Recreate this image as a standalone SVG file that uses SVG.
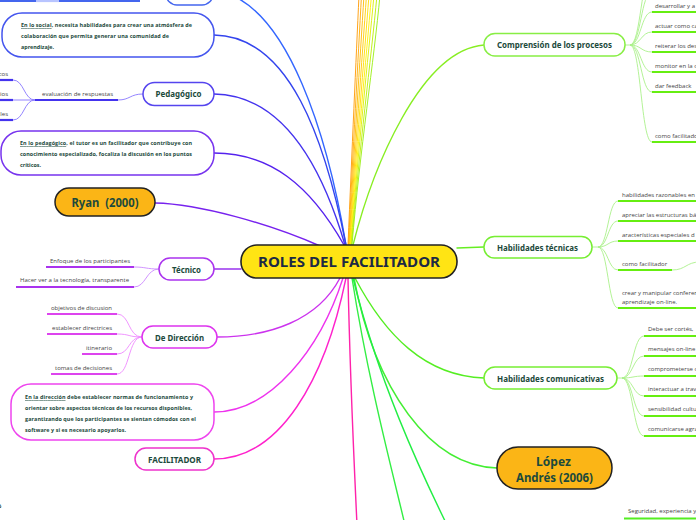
<svg xmlns="http://www.w3.org/2000/svg" width="696" height="520" viewBox="0 0 696 520">
<style>
.c{fill:none;stroke-width:1.4;stroke-linecap:round}
.b{fill:none;stroke-width:0.9}
.u{fill:none;stroke-width:2.2}
.s{fill:none;stroke-width:0.9}
.n{fill:#fff;stroke-width:1.5}
.lbl{font-family:"Noto Sans","Open Sans",sans-serif;font-weight:bold;font-size:9px;fill:#1c4a3c;text-anchor:middle}
.big{font-family:"Noto Sans","Open Sans",sans-serif;font-weight:bold;font-size:12px;fill:#1c4a3c;text-anchor:middle}
.lf{font-family:"Open Sans","Noto Sans",sans-serif;font-size:6px;fill:#444}
.bx{font-family:"Open Sans","Noto Sans",sans-serif;font-weight:bold;font-size:5.4px;fill:#1c4a3c}
.ul{text-decoration:underline}
</style>
<g id="connectors">
<!-- top bundle -->
<path class="b" stroke="#ff9900" d="M348 245 C352 150,356 60,359 -5"/>
<path class="b" stroke="#ffaa00" d="M348.5 245 C353 150,358 60,361.5 -5"/>
<path class="b" stroke="#ffbb00" d="M349 245 C354 150,360 60,364 -5"/>
<path class="b" stroke="#ffcc00" d="M349.5 245 C355 150,362 60,366.5 -5"/>
<path class="b" stroke="#ffdd00" d="M350 245 C356 150,364 60,369 -5"/>
<path class="b" stroke="#ffee00" d="M350.5 245 C357 150,366 60,371.5 -5"/>
<path class="b" stroke="#ddee00" d="M351 245 C358 150,368 60,374 -5"/>
<path class="b" stroke="#bbee00" d="M351.5 245 C359 150,371 60,377 -5"/>
<path class="b" stroke="#99ee11" d="M352 245 C360 150,374 60,380 -5"/>
<!-- left -->
<path class="c" stroke="#3366ff" d="M346 245 C330 150,290 -5,210 -10"/>
<path class="c" stroke="#3344ee" d="M346 245 C325 140,290 36,214 35"/>
<path class="c" stroke="#4433ee" d="M345 245 C320 160,280 95,214 94"/>
<path class="c" stroke="#5522ee" d="M344 245 C310 185,270 153,214 153"/>
<path class="c" stroke="#7722ee" d="M320 246 C270 224,200 204,155 203"/>
<path class="c" stroke="#9933ee" d="M241 269 L214 269"/>
<path class="c" stroke="#cc33ee" d="M340 278 C318 320,270 337,217 337"/>
<path class="c" stroke="#ee33ee" d="M343 278 C320 350,270 412,214 412"/>
<path class="c" stroke="#ff22cc" d="M346 278 C325 380,280 459,214 459"/>
<path class="c" stroke="#ff22aa" d="M348 278 C350 380,354 460,357 525"/>
<!-- right -->
<path class="c" stroke="#88ee22" d="M353 245 C372 170,420 50,484 45"/>
<path class="c" stroke="#66ee22" d="M457 248 L484 247"/>
<path class="c" stroke="#55ee22" d="M355 278 C385 335,425 376,484 378"/>
<path class="c" stroke="#44ee33" d="M354 278 C375 390,430 466,497 468"/>
<path class="c" stroke="#33ee44" d="M352 278 C368 380,392 470,405 525"/>
<path class="c" stroke="#22ee44" d="M353 278 C378 380,420 470,447 525"/>
<!-- top-left partial subtree -->
<path class="u" stroke="#4466ee" d="M0 1 L140 1"/>
<path class="u" stroke="#b8c4ff" d="M36 1 L59 1"/>
<!-- Pedagógico subtree -->
<path class="s" stroke="#8877ff" d="M143 94 C130 94,130 100,118 100"/>
<path class="u" stroke="#4433ee" d="M35 100 L118 100"/>
<path class="s" stroke="#8877ff" d="M35 100 C24 100,24 80,13 80"/>
<path class="s" stroke="#8877ff" d="M35 100 L13 100"/>
<path class="s" stroke="#8877ff" d="M35 100 C24 100,24 120,13 120"/>
<path class="u" stroke="#4433ee" d="M0 80 L13 80"/>
<path class="u" stroke="#4433ee" d="M0 100 L13 100"/>
<path class="u" stroke="#4433ee" d="M0 120 L13 120"/>
<!-- Técnico subtree -->
<path class="s" stroke="#cc88ff" d="M159 269 C146 269,146 267,134 267"/>
<path class="s" stroke="#cc88ff" d="M159 269 C146 269,146 287,134 287"/>
<path class="u" stroke="#aa33ee" d="M46 267 L134 267"/>
<path class="u" stroke="#aa33ee" d="M16 287 L134 287"/>
<!-- De Dirección subtree -->
<path class="s" stroke="#ee88ff" d="M142 337 C128 337,130 314,117 314"/>
<path class="s" stroke="#ee88ff" d="M142 337 C128 337,130 334,117 334"/>
<path class="s" stroke="#ee88ff" d="M142 337 C128 337,130 354,117 354"/>
<path class="s" stroke="#ee88ff" d="M142 337 C128 337,130 374,117 374"/>
<path class="u" stroke="#dd44ee" d="M47 314 L117 314"/>
<path class="u" stroke="#dd44ee" d="M47 334 L117 334"/>
<path class="u" stroke="#dd44ee" d="M82 354 L117 354"/>
<path class="u" stroke="#dd44ee" d="M51 374 L117 374"/>
<!-- Comprensión subtree -->
<path class="s" stroke="#aaf08a" d="M625 45 L630 45"/>
<path class="s" stroke="#aaf08a" d="M630 45 C641 45,641 -28,652 -28"/>
<path class="s" stroke="#aaf08a" d="M630 45 C641 45,641 -8,652 -8"/>
<path class="s" stroke="#aaf08a" d="M630 45 C641 45,641 12,652 12"/>
<path class="s" stroke="#aaf08a" d="M630 45 C641 45,641 32,652 32"/>
<path class="s" stroke="#aaf08a" d="M630 45 C641 45,641 52,652 52"/>
<path class="s" stroke="#aaf08a" d="M630 45 C641 45,641 72,652 72"/>
<path class="s" stroke="#aaf08a" d="M630 45 C641 45,641 92,652 92"/>
<path class="s" stroke="#aaf08a" d="M630 45 C641 45,641 142,652 142"/>
<path class="u" stroke="#66ee11" d="M652 12 L700 12 M652 32 L700 32 M652 52 L700 52 M652 72 L700 72 M652 92 L700 92 M652 142 L700 142"/>
<!-- Habilidades técnicas subtree -->
<path class="s" stroke="#aaf08a" d="M592 247 L598 247"/>
<path class="s" stroke="#aaf08a" d="M598 247 C608 247,608 201,618 201"/>
<path class="s" stroke="#aaf08a" d="M598 247 C608 247,608 221,618 221"/>
<path class="s" stroke="#aaf08a" d="M598 247 C608 247,608 241,618 241"/>
<path class="s" stroke="#aaf08a" d="M598 247 C608 247,608 270,618 270"/>
<path class="s" stroke="#aaf08a" d="M598 247 C608 247,608 308,618 308"/>
<path class="s" stroke="#aaf08a" d="M672 270 C686 270,686 262,700 262"/>
<path class="u" stroke="#66ee11" d="M618 201 L700 201 M618 221 L700 221 M618 241 L700 241 M618 270 L672 270 M618 308 L700 308"/>
<!-- Habilidades comunicativas subtree -->
<path class="s" stroke="#aaf08a" d="M617 378 L622 378"/>
<path class="s" stroke="#aaf08a" d="M622 378 C633 378,633 336,644 336"/>
<path class="s" stroke="#aaf08a" d="M622 378 C633 378,633 356,644 356"/>
<path class="s" stroke="#aaf08a" d="M622 378 C633 378,633 376,644 376"/>
<path class="s" stroke="#aaf08a" d="M622 378 C633 378,633 396,644 396"/>
<path class="s" stroke="#aaf08a" d="M622 378 C633 378,633 416,644 416"/>
<path class="s" stroke="#aaf08a" d="M622 378 C633 378,633 436,644 436"/>
<path class="u" stroke="#66ee11" d="M644 336 L700 336 M644 356 L700 356 M644 376 L700 376 M644 396 L700 396 M644 416 L700 416 M644 436 L700 436"/>
<!-- bottom right -->
<path class="u" stroke="#55ee22" d="M624 518.5 L700 518.5"/>
</g>

<g id="n-top-partial"><rect class="n" stroke="#4466ee" x="166" y="-20" width="47" height="25" rx="11"/></g>

<g id="n-social">
<rect class="n" stroke="#4455ee" x="2" y="13" width="212" height="44" rx="20"/>
<text class="bx" x="21" y="27" textLength="171" lengthAdjust="spacing"><tspan class="ul">En lo social</tspan>, necesita habilidades para crear una atmósfera de</text>
<text class="bx" x="21" y="38" textLength="148" lengthAdjust="spacing">colaboración que permita generar una comunidad de</text>
<text class="bx" x="21" y="49" textLength="33" lengthAdjust="spacing">aprendizaje.</text>
</g>

<g id="n-pedagogico">
<rect class="n" stroke="#5544ee" x="143" y="82.5" width="71" height="23" rx="11.5"/>
<text class="lbl" x="178.5" y="97" textLength="46" lengthAdjust="spacingAndGlyphs">Pedagógico</text>
<text class="lf" x="42" y="95.5" textLength="71" lengthAdjust="spacing">evaluación de respuestas</text>
<text class="lf" x="8" y="75.5" text-anchor="end">cos</text>
<text class="lf" x="8" y="95.5" text-anchor="end">ios</text>
<text class="lf" x="8" y="115.5" text-anchor="end">dles</text>
</g>

<g id="n-ped-box">
<rect class="n" stroke="#7733ee" x="1" y="131" width="213" height="44" rx="20"/>
<text class="bx" x="20" y="145" textLength="172" lengthAdjust="spacing"><tspan class="ul">En lo pedagógico</tspan>, el tutor es un facilitador que contribuye con</text>
<text class="bx" x="20" y="156" textLength="172" lengthAdjust="spacing">conocimiento especializado, focaliza la discusión en los puntos</text>
<text class="bx" x="20" y="167" textLength="21" lengthAdjust="spacing">críticos.</text>
</g>

<g id="n-ryan">
<rect fill="#fbb516" stroke="#222" stroke-width="1.5" x="55" y="188" width="100" height="28" rx="14"/>
<text class="big" x="105" y="206.5" textLength="67" lengthAdjust="spacingAndGlyphs" xml:space="preserve">Ryan  (2000)</text>
</g>

<g id="n-tecnico">
<rect class="n" stroke="#aa33ee" x="159" y="258" width="55" height="22" rx="11"/>
<text class="lbl" x="186.5" y="272.5" textLength="29" lengthAdjust="spacingAndGlyphs">Técnico</text>
<text class="lf" x="50" y="262.5" textLength="80" lengthAdjust="spacing">Enfoque de los participantes</text>
<text class="lf" x="20" y="281.5" textLength="109" lengthAdjust="spacing">Hacer ver a la tecnología, transparente</text>
</g>

<g id="n-direccion">
<rect class="n" stroke="#dd33ee" x="142" y="326" width="75" height="22" rx="11"/>
<text class="lbl" x="179.5" y="340.5" textLength="49" lengthAdjust="spacingAndGlyphs">De Dirección</text>
<text class="lf" x="51" y="309.5" textLength="61" lengthAdjust="spacing">objetivos de discusion</text>
<text class="lf" x="52" y="329.5" textLength="60" lengthAdjust="spacing">establecer directrices</text>
<text class="lf" x="86" y="349.5" textLength="26" lengthAdjust="spacing">itinerario</text>
<text class="lf" x="55" y="369.5" textLength="57" lengthAdjust="spacing">tomas de decisiones</text>
</g>

<g id="n-dir-box">
<rect class="n" stroke="#ee44ee" x="11" y="384" width="203" height="56" rx="20"/>
<text class="bx" x="25" y="399" textLength="168" lengthAdjust="spacing"><tspan class="ul">En la dirección</tspan> debe establecer normas de funcionamiento y</text>
<text class="bx" x="25" y="410" textLength="167" lengthAdjust="spacing">orientar sobre aspectos técnicos de los recursos disponibles,</text>
<text class="bx" x="25" y="421" textLength="171" lengthAdjust="spacing">garantizando que los participantes se sientan cómodos con el</text>
<text class="bx" x="25" y="432" textLength="101" lengthAdjust="spacing">software y si es necesario apoyarlos.</text>
</g>

<g id="n-facilitador">
<rect class="n" stroke="#ee33cc" x="135" y="448" width="79" height="22" rx="11"/>
<text class="lbl" x="174.5" y="462.5" textLength="53" lengthAdjust="spacingAndGlyphs">FACILITADOR</text>
</g>

<g id="n-frag"><text class="bx" x="-2" y="508">ó</text></g>

<g id="n-central">
<rect fill="#ffe414" stroke="#222" stroke-width="1.6" x="241" y="245" width="216" height="33" rx="16"/>
<text x="349" y="267" text-anchor="middle" font-family="Noto Sans, Open Sans, sans-serif" font-weight="bold" font-size="15" fill="#1c2a44" textLength="182" lengthAdjust="spacingAndGlyphs">ROLES DEL FACILITADOR</text>
</g>

<g id="n-comprension">
<rect class="n" stroke="#88ee44" x="484" y="33.5" width="141" height="22.5" rx="11"/>
<text class="lbl" x="554.5" y="48" textLength="115" lengthAdjust="spacingAndGlyphs">Comprensión de los procesos</text>
<text class="lf" x="655" y="7.5">desarrollar y a</text>
<text class="lf" x="655" y="27.5">actuar como ca</text>
<text class="lf" x="655" y="47.5">reiterar los des</text>
<text class="lf" x="655" y="67.5">monitor en la c</text>
<text class="lf" x="655" y="87.5">dar feedback</text>
<text class="lf" x="655" y="137.5">como facilitado</text>
</g>

<g id="n-hab-tecnicas">
<rect class="n" stroke="#77ee33" x="484" y="236.5" width="108" height="21.5" rx="10.5"/>
<text class="lbl" x="537.5" y="250.5" textLength="81" lengthAdjust="spacingAndGlyphs">Habilidades técnicas</text>
<text class="lf" x="622" y="196.5">habilidades razonables en</text>
<text class="lf" x="622" y="216.5">apreciar las estructuras bá</text>
<text class="lf" x="622" y="236.5">aracterísticas especiales d</text>
<text class="lf" x="622" y="265.5">como facilitador</text>
<text class="lf" x="622" y="294.5">crear y manipular conferen</text>
<text class="lf" x="622" y="304">aprendizaje on-line.</text>
</g>

<g id="n-hab-comunicativas">
<rect class="n" stroke="#77ee33" x="484" y="367" width="133" height="22" rx="11"/>
<text class="lbl" x="550.5" y="381.5" textLength="107" lengthAdjust="spacingAndGlyphs">Habilidades comunicativas</text>
<text class="lf" x="648" y="331">Debe ser cortés, </text>
<text class="lf" x="648" y="351">mensajes on-line</text>
<text class="lf" x="648" y="371">comprometerse c</text>
<text class="lf" x="648" y="391">interactuar a trav</text>
<text class="lf" x="648" y="411">sensibilidad cultu</text>
<text class="lf" x="648" y="431">comunicarse agra</text>
</g>

<g id="n-lopez">
<rect fill="#fbb516" stroke="#222" stroke-width="1.5" x="497" y="447" width="115" height="42" rx="21"/>
<text class="big" x="553.5" y="465.5">López</text>
<text class="big" x="554.5" y="481.5" textLength="77" lengthAdjust="spacingAndGlyphs">Andrés (2006)</text>
</g>

<g id="n-seguridad">
<text class="lf" x="628" y="513">Seguridad, experiencia y</text>
</g>
</svg>
